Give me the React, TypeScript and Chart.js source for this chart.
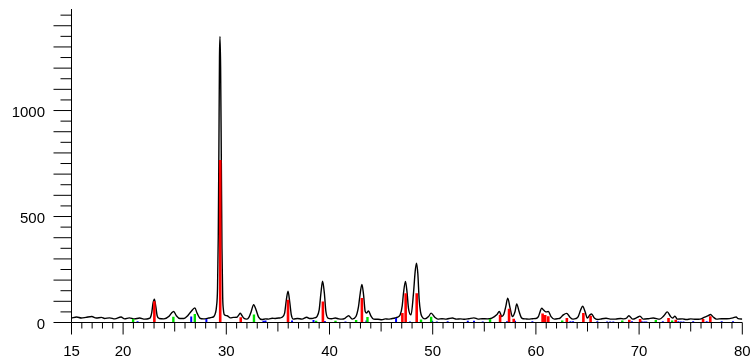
import { useEffect, useRef } from "react";
import { Chart, registerables } from "chart.js";

Chart.register(...registerables);

// Diffraction pattern: [2θ, counts]
const pattern: [number, number][] = [
  [15.0, 21], [15.5, 26], [15.95, 21], [16.4, 24], [16.97, 28], [17.4, 21], [17.9, 24], [18.2, 19],
  [18.7, 22], [19.2, 17], [19.8, 26], [20.15, 17], [20.6, 22], [21.1, 17], [21.6, 21], [22.1, 16],
  [22.5, 19], [22.65, 24], [22.78, 48], [22.9, 91], [23.03, 110], [23.17, 75], [23.3, 32], [23.5, 19],
  [23.95, 17], [24.42, 28], [24.68, 44], [24.9, 52], [25.16, 32], [25.5, 19], [25.9, 19], [26.26, 32],
  [26.59, 52], [26.95, 69], [27.17, 44], [27.43, 21], [27.8, 17], [28.3, 21], [28.6, 24], [28.8, 28],
  [28.95, 45], [29.05, 75], [29.15, 160], [29.22, 400], [29.28, 800], [29.34, 1250], [29.39, 1349],
  [29.45, 1200], [29.52, 750], [29.58, 350], [29.65, 120], [29.72, 60], [29.82, 36], [30.07, 32],
  [30.4, 22], [30.7, 24], [31.04, 25], [31.2, 35], [31.36, 44], [31.52, 32], [31.68, 21], [32.0, 16],
  [32.2, 25], [32.4, 50], [32.65, 84], [32.88, 60], [33.13, 25], [33.45, 14], [33.8, 17], [34.1, 16],
  [34.45, 20], [34.74, 19], [35.1, 21], [35.4, 25], [35.65, 44], [35.82, 107], [35.98, 148], [36.14, 99],
  [36.3, 36], [36.5, 16], [36.9, 19], [37.33, 16], [37.8, 25], [38.05, 19], [38.3, 19], [38.55, 22],
  [38.78, 28], [39.0, 60], [39.17, 139], [39.33, 195], [39.5, 139], [39.65, 52], [39.85, 21], [40.2, 18],
  [40.56, 21], [40.9, 17], [41.2, 16], [41.5, 20], [41.85, 32], [42.2, 16], [42.56, 28], [42.81, 75],
  [42.98, 139], [43.14, 180], [43.3, 131], [43.46, 52], [43.6, 45], [43.78, 55], [44.0, 32], [44.27, 16],
  [44.7, 15], [45.07, 13], [45.4, 17], [45.7, 16], [46.0, 18], [46.36, 21], [46.6, 25], [46.85, 36],
  [47.05, 80], [47.17, 139], [47.36, 194], [47.52, 140], [47.65, 68], [47.9, 36], [48.14, 139],
  [48.3, 240], [48.43, 280], [48.56, 230], [48.69, 107], [48.82, 50], [48.95, 28], [49.25, 17],
  [49.6, 28], [49.85, 44], [50.2, 25], [50.5, 16], [50.9, 18], [51.3, 16], [51.6, 19], [51.91, 21],
  [52.3, 16], [52.7, 17], [53.1, 15], [53.5, 18], [54.0, 22], [54.4, 16], [54.8, 18], [55.3, 17],
  [55.73, 21], [56.2, 36], [56.46, 52], [56.7, 28], [56.9, 40], [57.08, 75], [57.27, 115], [57.5, 68],
  [57.72, 28], [57.98, 52], [58.14, 88], [58.37, 52], [58.63, 21], [59.0, 17], [59.3, 16], [59.7, 18],
  [60.0, 19], [60.24, 28], [60.4, 50], [60.56, 68], [60.72, 60], [60.89, 52], [61.05, 50], [61.2, 52],
  [61.47, 28], [61.79, 16], [62.1, 18], [62.34, 21], [62.66, 36], [62.98, 43], [63.3, 25], [63.6, 16],
  [63.85, 18], [64.1, 28], [64.34, 60], [64.53, 77], [64.76, 52], [64.98, 21], [65.24, 36], [65.4, 40],
  [65.66, 21], [66.0, 14], [66.4, 18], [66.8, 20], [67.2, 16], [67.7, 16], [68.2, 19], [68.5, 17],
  [68.8, 21], [69.0, 32], [69.37, 16], [69.82, 24], [70.08, 30], [70.4, 16], [70.9, 18], [71.37, 21],
  [72.0, 16], [72.4, 32], [72.73, 50], [73.05, 28], [73.25, 21], [73.47, 30], [73.7, 16], [74.2, 17],
  [74.6, 14], [75.0, 17], [75.5, 15], [75.9, 16], [76.3, 24], [76.7, 32], [76.92, 38], [77.18, 26],
  [77.5, 16], [78.0, 18], [78.5, 18], [79.1, 22], [79.4, 26], [79.6, 18], [80.0, 16],
];

// Reference stick markers
const redPos = [23.03, 29.41, 31.4, 35.98, 39.36, 43.14, 47.06, 47.38, 48.45, 56.53, 57.4, 57.85, 60.65, 60.9, 61.2, 63.0, 64.6, 65.3, 69.05, 70.1, 72.85, 73.55, 76.2, 76.9];
const redInt = [100, 767, 25, 107, 99, 115, 45, 138, 138, 37, 65, 18, 42, 35, 30, 21, 45, 32, 13, 16, 21, 13, 16, 29];

const greenPos = [20.97, 24.87, 26.95, 32.68, 38.7, 40.58, 42.58, 43.68, 48.87, 49.85, 55.56, 62.55, 68.37, 71.62, 73.2];
const greenInt = [16, 27, 40, 38, 8, 8, 12, 26, 14, 27, 17, 10, 9, 12, 10];

const bluePos = [21.4, 26.6, 28.07, 33.6, 33.8, 36.37, 38.45, 39.55, 41.55, 43.58, 46.45, 47.8, 49.95, 50.4, 51.45, 53.4, 54.0, 54.85, 57.2, 57.98, 59.66, 63.35, 63.6, 65.95, 66.9, 67.2, 67.5, 69.3, 70.25, 70.5, 70.7, 72.3, 73.8, 74.05, 74.3, 75.24, 76.55, 76.85, 78.0, 79.1];
const blueInt = [6, 28, 16, 8, 10, 10, 12, 7, 5, 10, 21, 5, 8, 5, 6, 8, 8, 5, 6, 8, 6, 6, 6, 6, 5, 5, 5, 6, 6, 5, 5, 6, 6, 5, 5, 6, 6, 6, 6, 6];

const xTickLabels = [15, 20, 30, 40, 50, 60, 70, 80];
const yTickLabels = [0, 500, 1000];

const X_MIN = 15;
const X_MAX = 80;
const Y_MAX = 1479;

function sticks(pos: number[], h: number[]) {
  const out: { x: number; y: number | null }[] = [];
  pos.forEach((p, i) => {
    out.push({ x: p, y: 0 }, { x: p, y: h[i] }, { x: p, y: null });
  });
  return out;
}

function zeroPadding(s: any) {
  s.paddingLeft = 0;
  s.paddingRight = 0;
  s.paddingTop = 0;
  s.paddingBottom = 0;
}

const axisPlugin = {
  id: "xrdAxes",
  afterDraw(chart: any) {
    const { ctx, chartArea } = chart;
    const xs = chart.scales.x;
    const ys = chart.scales.y;
    const x0 = chartArea.left;
    const yb = chartArea.bottom;
    ctx.save();
    ctx.strokeStyle = "#000";
    ctx.lineWidth = 1;
    ctx.beginPath();
    ctx.moveTo(x0, chartArea.top);
    ctx.lineTo(x0, yb);
    ctx.moveTo(x0, yb);
    ctx.lineTo(xs.getPixelForValue(X_MAX), yb);
    for (let v = 0; v <= 1450; v += 50) {
      const py = ys.getPixelForValue(v);
      const len = v % 100 === 0 ? 18 : 11;
      ctx.moveTo(x0 - len, py);
      ctx.lineTo(x0, py);
    }
    for (let a = X_MIN; a <= X_MAX; a++) {
      const px = xs.getPixelForValue(a);
      const len = a % 10 === 0 || a === X_MIN ? 12 : a % 5 === 0 ? 9 : 6;
      ctx.moveTo(px, yb);
      ctx.lineTo(px, yb + len);
    }
    ctx.stroke();
    ctx.restore();
  },
};

export default function App() {
  const ref = useRef<HTMLCanvasElement>(null);
  useEffect(() => {
    if (!ref.current) return;
    const font = { family: "'Liberation Sans', Arial, sans-serif", size: 15 };
    const chart = new Chart(ref.current, {
      type: "line",
      data: {
        datasets: [
          {
            data: sticks(redPos, redInt),
            borderColor: "#ff0000",
            borderWidth: 2.6,
            pointRadius: 0,
            spanGaps: false,
            borderCapStyle: "butt",
          },
          {
            data: sticks(greenPos, greenInt),
            borderColor: "#00e000",
            borderWidth: 2.4,
            pointRadius: 0,
            spanGaps: false,
            borderCapStyle: "butt",
          },
          {
            data: sticks(bluePos, blueInt),
            borderColor: "#0000ff",
            borderWidth: 2,
            pointRadius: 0,
            spanGaps: false,
            borderCapStyle: "butt",
          },
          {
            data: pattern.map(([x, y]) => ({ x, y })),
            borderColor: "#000000",
            borderWidth: 1.4,
            pointRadius: 0,
            cubicInterpolationMode: "monotone",
          },
        ],
      } as any,
      options: {
        responsive: false,
        animation: false,
        events: [],
        layout: { autoPadding: false, padding: { top: 9, right: 9.7, left: 0, bottom: 0 } },
        plugins: { legend: { display: false }, tooltip: { enabled: false } },
        scales: {
          x: {
            type: "linear",
            min: X_MIN,
            max: X_MAX,
            afterBuildTicks: (s: any) => {
              s.ticks = xTickLabels.map((v) => ({ value: v }));
            },
            afterFit: (s: any) => {
              s.height = 35.5;
              zeroPadding(s);
            },
            grid: { display: false, drawTicks: false },
            border: { display: false },
            ticks: {
              autoSkip: false,
              maxRotation: 0,
              padding: 20,
              color: "#000",
              font,
              callback: (v: any) => String(v),
            },
          },
          y: {
            type: "linear",
            min: 0,
            max: Y_MAX,
            afterBuildTicks: (s: any) => {
              s.ticks = yTickLabels.map((v) => ({ value: v }));
            },
            afterFit: (s: any) => {
              s.width = 71.5;
              zeroPadding(s);
            },
            grid: { display: false, drawTicks: false },
            border: { display: false },
            ticks: {
              padding: 26.5,
              labelOffset: 2,
              color: "#000",
              font,
              callback: (v: any) => String(v),
            },
          },
        },
      } as any,
      plugins: [axisPlugin],
    });
    return () => chart.destroy();
  }, []);
  return (
    <div style={{ position: "absolute", left: 0, top: 0, width: 752, height: 358, background: "#fff" }}>
      <canvas ref={ref} width={752} height={358} style={{ display: "block" }} />
    </div>
  );
}
